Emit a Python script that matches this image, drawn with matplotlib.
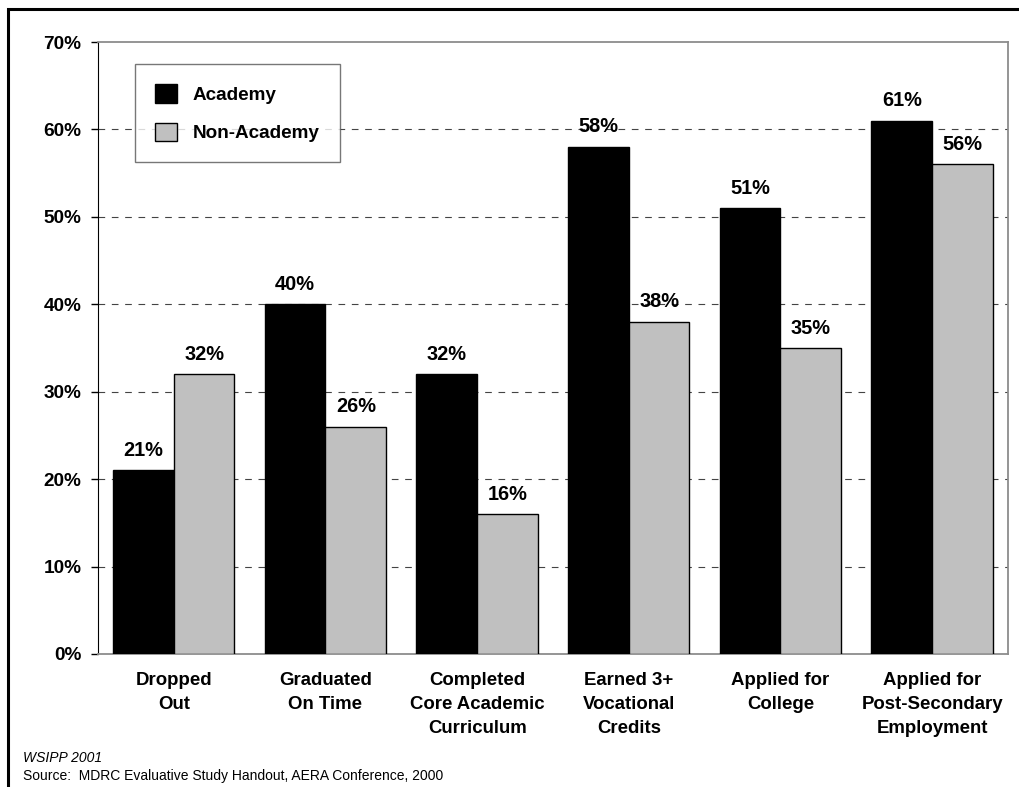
import matplotlib
matplotlib.use("Agg")
import matplotlib.pyplot as plt
import numpy as np
from matplotlib.patches import Rectangle

plt.rcParams["font.family"] = ["Liberation Sans", "DejaVu Sans"]

# Data
categories = [
    "Dropped\nOut",
    "Graduated\nOn Time",
    "Completed\nCore Academic\nCurriculum",
    "Earned 3+\nVocational\nCredits",
    "Applied for\nCollege",
    "Applied for\nPost-Secondary\nEmployment",
]
academy = [21, 40, 32, 58, 51, 61]
non_academy = [32, 26, 16, 38, 35, 56]
series_names = ["Academy", "Non-Academy"]
y_ticks = [0, 10, 20, 30, 40, 50, 60, 70]

fig = plt.figure(figsize=(10.2, 7.87), dpi=100)
ax = fig.add_axes([98 / 1020, 1 - 654 / 787, 910 / 1020, 612 / 787])

# Outer frame of the figure (only top/left visible in the reference)
fig.patches.append(Rectangle((8 / 1020, -0.1), 1.1, 1 - 9 / 787 + 0.1,
                             transform=fig.transFigure, fill=False,
                             edgecolor="black", linewidth=2.2))

x = np.arange(len(categories))
w = 0.4
b1 = ax.bar(x - w / 2, academy, width=w, color="black", edgecolor="black",
            linewidth=1, label=series_names[0], zorder=3)
b2 = ax.bar(x + w / 2, non_academy, width=w, color="#c0c0c0", edgecolor="black",
            linewidth=1, label=series_names[1], zorder=3)

for bars, vals in ((b1, academy), (b2, non_academy)):
    for rect, v in zip(bars, vals):
        ax.text(rect.get_x() + rect.get_width() / 2, v + 1.2, f"{v}%",
                ha="center", va="bottom", fontsize=14.4, fontweight="bold", zorder=4)

ax.set_xlim(-0.5, len(categories) - 0.5)
ax.set_ylim(0, 70)
ax.set_yticks(y_ticks)
ax.set_yticklabels([f"{t}%" for t in y_ticks], fontsize=13.7, fontweight="bold")
ax.set_xticks(x)
ax.set_xticklabels(categories, fontsize=13.4, fontweight="bold", linespacing=1.55)
ax.tick_params(axis="x", length=0, pad=13)
ax.tick_params(axis="y", direction="out", length=5, width=1, pad=7)

for y in y_ticks[1:-1]:
    ax.axhline(y, color="#444444", linestyle=(0, (6, 6)), linewidth=0.8, zorder=1)

ax.spines["left"].set_color("black")
for s in ("top", "right", "bottom"):
    ax.spines[s].set_color("#8c8c8c")
    ax.spines[s].set_linewidth(1.3)

leg = ax.legend(loc="upper left", bbox_to_anchor=(0.041, 0.964),
                prop={"weight": "bold", "size": 13.6}, frameon=True, fancybox=False,
                edgecolor="#555555", handlelength=1.15, handleheight=1.15,
                handletextpad=0.85, borderpad=1.05, labelspacing=1.0, borderaxespad=0)
leg.get_frame().set_linewidth(1.0)

fig.text(23 / 1020, 1 - 758 / 787, "WSIPP 2001", fontsize=10, style="italic", va="center")
fig.text(23 / 1020, 1 - 776 / 787,
         "Source:  MDRC Evaluative Study Handout, AERA Conference, 2000",
         fontsize=10, va="center")

fig.savefig("out.png", dpi=100)
